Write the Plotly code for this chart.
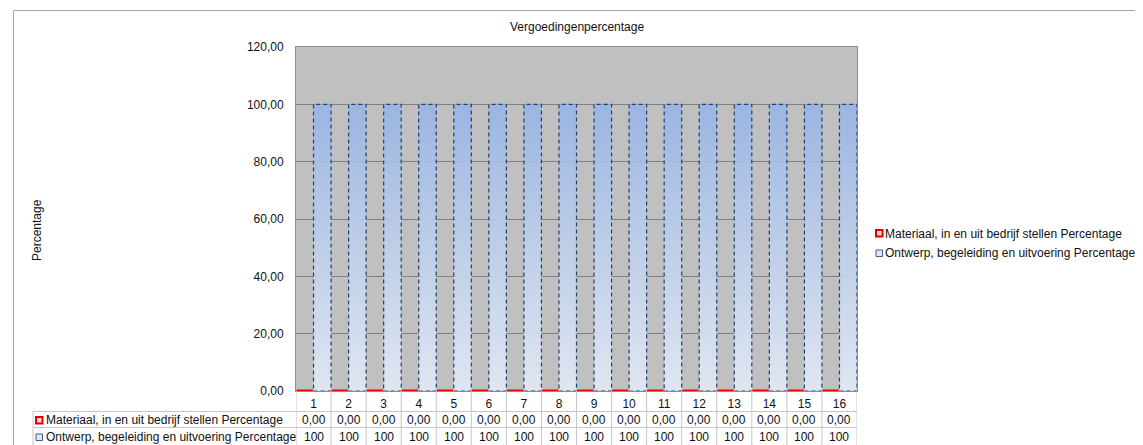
import plotly.graph_objects as go

# ---- data ----
categories = ["1", "2", "3", "4", "5", "6", "7", "8", "9", "10", "11", "12", "13", "14", "15", "16"]
materiaal = [0.00, 0.00, 0.00, 0.00, 0.00, 0.00, 0.00, 0.00, 0.00, 0.00, 0.00, 0.00, 0.00, 0.00, 0.00, 0.00]
ontwerp = [100, 100, 100, 100, 100, 100, 100, 100, 100, 100, 100, 100, 100, 100, 100, 100]
series_names = ["Materiaal, in en uit bedrijf stellen Percentage",
                "Ontwerp, begeleiding en uitvoering Percentage"]
y_ticks = [0, 20, 40, 60, 80, 100, 120]
title_text = "Vergoedingenpercentage"
y_title = "Percentage"

OFF = 8  # page body margin
W, H = 1143 - OFF, 445 - OFF
L, R, T, B = 296, 857, 47, 391  # plot area in screen pixels
PW, PH = R - L, B - T
FONT = "Liberation Sans, Arial, sans-serif"
FS = 12
TXT = "#111111"


def px(x):
    return (x - L) / PW


def py(y):
    return (B - y) / PH


xpos = list(range(1, len(categories) + 1))

fig = go.Figure()

# blue bars (right half of each category) as filled polygons with gradient
bx, by = [], []
for xi, v in zip(xpos, ontwerp):
    bx += [xi + 0.0, xi + 0.5, xi + 0.5, xi + 0.0, xi + 0.0, None]
    by += [0, 0, v, v, 0, None]
fig.add_trace(go.Scatter(
    x=bx, y=by, mode="lines", fill="toself",
    fillgradient=dict(type="vertical",
                      colorscale=[[0, "rgba(226,233,245,0.93)"], [0.5, "rgba(190,208,236,0.9)"],
                                  [1, "rgba(152,180,228,0.93)"]]),
    line=dict(color="#24416e", width=1.2, dash="4px,3px"),
    showlegend=False, hoverinfo="skip", name=series_names[1]))

# red series (value 0) on left half of each category
rx, ry = [], []
for xi, v in zip(xpos, materiaal):
    rx += [xi - 0.48, xi - 0.02, None]
    ry += [v, v, None]
fig.add_trace(go.Scatter(x=rx, y=ry, mode="lines", line=dict(color="#ff0000", width=3),
                         showlegend=False, hoverinfo="skip", name=series_names[0]))

# legend entries (text from legend, icons drawn as shapes next to the text)
for nm in series_names:
    fig.add_trace(go.Scatter(x=[None], y=[None], mode="markers", name=nm,
                             marker=dict(symbol="square", size=1, color="rgba(0,0,0,0)")))

shapes = []
annotations = []


def icon(kind, xl, yc):
    if kind == 0:
        return dict(type="rect", xref="paper", yref="paper", x0=px(xl), x1=px(xl + 6.5), y0=py(yc + 3.5),
                    y1=py(yc - 3), fillcolor="#ffd8d8", line=dict(color="#e00000", width=2))
    return dict(type="rect", xref="paper", yref="paper", x0=px(xl), x1=px(xl + 6.5), y0=py(yc + 3.5),
                y1=py(yc - 3), fillcolor="#dce6f4", line=dict(color="#3a5f95", width=1))


# outer chart border
shapes.append(dict(type="rect", xref="paper", yref="paper", x0=px(13.5), x1=px(1142), y0=py(470), y1=py(10.5),
                   line=dict(color="#a6a6a6", width=1), layer="below"))

# data table grid
grid_c = "#c6c6c6"
for yl in [411.5, 427.5]:
    shapes.append(dict(type="line", xref="paper", yref="paper", x0=px(33), x1=px(R), y0=py(yl), y1=py(yl),
                       line=dict(color=grid_c, width=1)))
shapes.append(dict(type="line", xref="paper", yref="paper", x0=px(33), x1=px(33), y0=py(411.5), y1=py(470),
                   line=dict(color=grid_c, width=1)))
for k in range(len(categories) + 1):
    shapes.append(dict(type="line", xref="x", yref="paper", x0=k + 0.5, x1=k + 0.5, y0=py(B), y1=py(470),
                       line=dict(color=grid_c, width=1)))

# table row labels with icons
row_y = [420, 437]
for i, (name, yy) in enumerate(zip(series_names, row_y)):
    shapes.append(icon(i, 36, yy))
    annotations.append(dict(xref="paper", yref="paper", x=px(44), y=py(yy), text=name, showarrow=False,
                            xanchor="left", yanchor="middle", font=dict(size=FS, color=TXT, family=FONT)))

# legend icons
for i, yy in enumerate([233, 253]):
    shapes.append(icon(i, 876, yy))

for xi, a, b in zip(xpos, materiaal, ontwerp):
    annotations.append(dict(xref="x", yref="paper", x=xi, y=py(row_y[0]), text=f"{a:.2f}".replace(".", ","),
                            showarrow=False, xanchor="center", yanchor="middle",
                            font=dict(size=FS, color=TXT, family=FONT)))
    annotations.append(dict(xref="x", yref="paper", x=xi, y=py(row_y[1]), text=f"{b:g}",
                            showarrow=False, xanchor="center", yanchor="middle",
                            font=dict(size=FS, color=TXT, family=FONT)))

# y axis title
annotations.append(dict(xref="paper", yref="paper", x=px(37), y=py(230), text=y_title, textangle=-90,
                        showarrow=False, xanchor="center", yanchor="middle",
                        font=dict(size=FS, color=TXT, family=FONT)))
# chart title
annotations.append(dict(xref="paper", yref="paper", x=0.5, y=py(27), text=title_text,
                        showarrow=False, xanchor="center", yanchor="middle",
                        font=dict(size=FS, color=TXT, family=FONT)))

fig.update_layout(
    width=W, height=H,
    margin=dict(l=L - OFF, r=W - (R - OFF), t=T - OFF, b=H - (B - OFF), pad=0, autoexpand=False),
    paper_bgcolor="white", plot_bgcolor="#c0c0c0",
    separators=",.",
    font=dict(family=FONT, size=FS, color=TXT),
    shapes=shapes, annotations=annotations,
    showlegend=True,
    legend=dict(x=px(845), y=py(219), xanchor="left", yanchor="top", bgcolor="rgba(0,0,0,0)",
                font=dict(size=FS, color=TXT, family=FONT), itemwidth=30, tracegroupgap=0),
    xaxis=dict(range=[0.5, len(categories) + 0.5], tickvals=xpos, ticktext=categories, showgrid=False,
               zeroline=False, ticks="", showline=True, linecolor="#8c8c8c", mirror=True,
               ticklabelstandoff=2, tickfont=dict(size=FS, color=TXT, family=FONT)),
    yaxis=dict(range=[0, 120], tickvals=y_ticks, tickformat=".2f", showgrid=True, gridcolor="#7f7f7f",
               gridwidth=1, zeroline=False, ticks="", showline=True, linecolor="#8c8c8c", mirror=True,
               ticklabelstandoff=9, tickfont=dict(size=FS, color=TXT, family=FONT)),
)

fig.write_html("out.html")
